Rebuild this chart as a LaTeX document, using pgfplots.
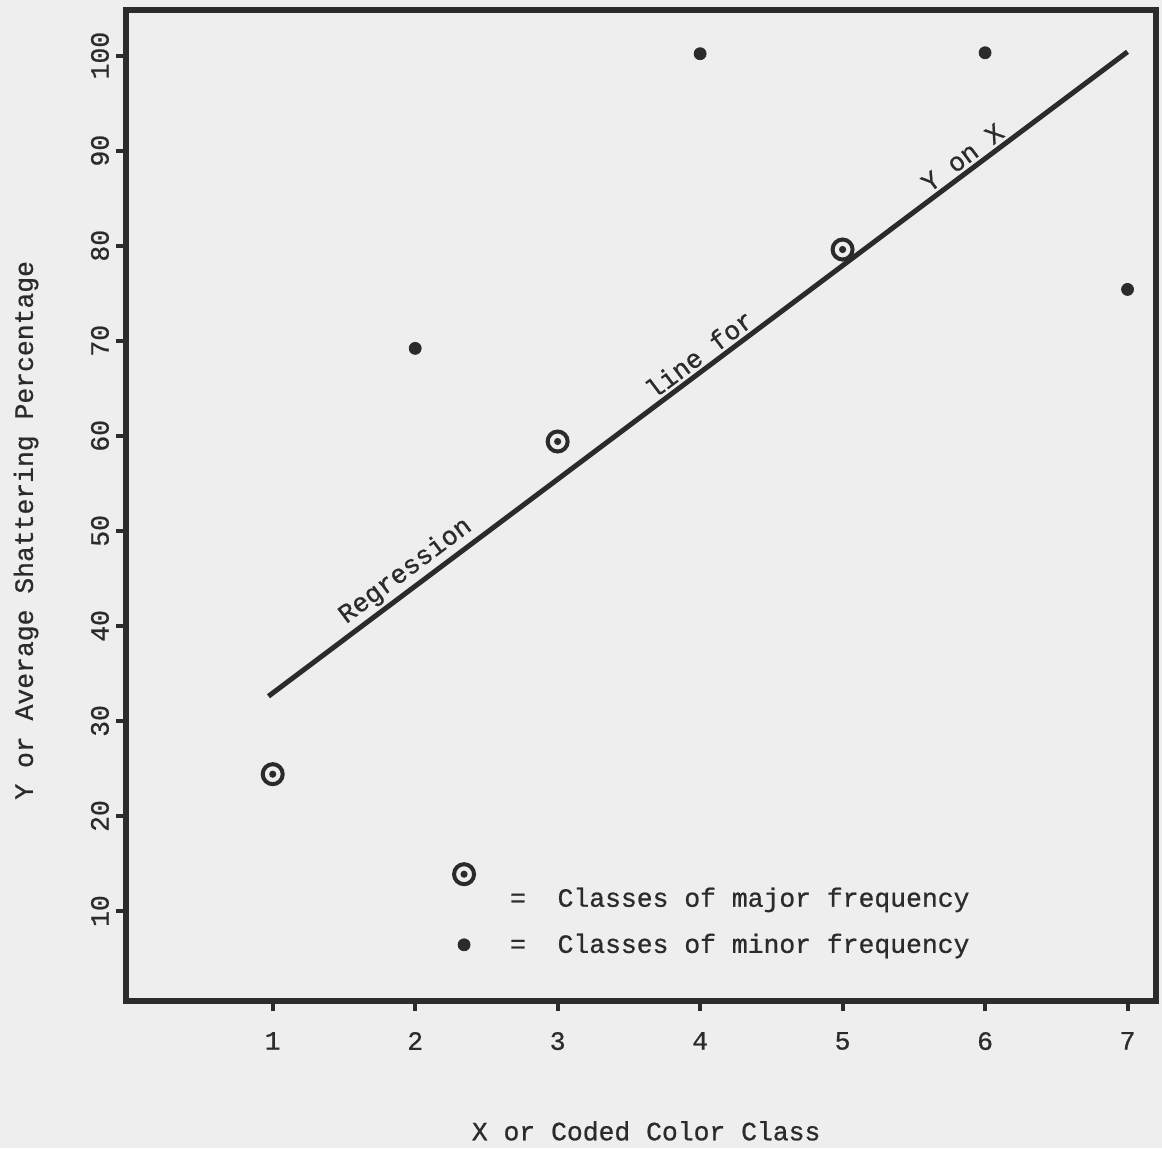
\documentclass[border=0pt]{standalone}
\usepackage{fontspec}
\setmainfont{Liberation Mono}[FakeBold=0.8]
\usepackage{pgfplots}
\pgfplotsset{compat=1.18}
\usetikzlibrary{backgrounds}
\definecolor{ink}{HTML}{2B2B2B}
\definecolor{paper}{HTML}{EEEEEE}
\pgfdeclareplotmark{ringdot}{%
  \pgfpathcircle{\pgfpointorigin}{\pgfplotmarksize}%
  \pgfusepathqstroke
  \pgfpathcircle{\pgfpointorigin}{0.36\pgfplotmarksize}%
  \pgfusepathqfill
}
\pgfplotsset{
  majorleg/.style={legend image code/.code={\draw[##1] plot coordinates {(0.3cm,0.43cm)};}},
  minorleg/.style={legend image code/.code={\draw[##1] plot coordinates {(0.3cm,0cm)};}},
}
\newcommand{\tw}{\fontsize{13.2}{15}\selectfont}
\begin{document}
\begin{tikzpicture}[show background rectangle, inner frame sep=0pt,
  background rectangle/.style={fill=paper, draw=none}]
\begin{axis}[
  scale only axis, width=515pt, height=495.5pt,
  xmin=-0.03, xmax=7.2, ymin=0.53, ymax=104.8,
  axis line style={ink, line width=3pt, line join=miter},
  xtick={1,2,3,4,5,6,7}, ytick={10,20,30,40,50,60,70,80,90,100},
  tick align=outside, tick pos=left,
  major tick length=5pt,
  every tick/.style={ink, line width=2pt},
  tick label style={font=\tw, text=ink},
  /pgf/number format/assume math mode=true,
  xticklabel style={yshift=-7pt},
  yticklabel style={rotate=90, anchor=south},
  xlabel={X or Coded Color Class},
  ylabel={Y or Average Shattering Percentage},
  every axis x label/.style={at={(rel axis cs:0.505,-0.131)}, anchor=center, font=\tw, text=ink},
  every axis y label/.style={at={(rel axis cs:-0.097,0.475)}, rotate=90, anchor=center, font=\tw, text=ink},
  clip=false,
  legend cell align=left,
  legend style={draw=none, fill=none, at={(axis cs:2.228,4.4)}, anchor=south west,
    font=\tw, text=ink, row sep=8pt},
]
\addplot[only marks, mark=ringdot, mark size=5pt, ink, line width=2pt, majorleg] coordinates {
  (1,24.4) (3,59.4) (5,79.6)
};
\addlegendentry{\hspace*{16pt}=\ \ Classes of major frequency}
\addplot[only marks, mark=*, mark size=3pt, ink, minorleg] coordinates {
  (2,69.2) (4,100.2) (6,100.3) (7,75.4)
};
\addlegendentry{\hspace*{16pt}=\ \ Classes of minor frequency}
\addplot[forget plot, ink, line width=2.5pt, no marks] coordinates {(0.97,32.6) (7,100.4)}
  node[pos=0.172, sloped, above, inner sep=1.5pt, font=\tw, text=ink] {Regression}
  node[pos=0.512, sloped, above, inner sep=1.5pt, font=\tw, text=ink] {line for}
  node[pos=0.818, sloped, above, inner sep=1.5pt, font=\tw, text=ink] {Y on X};
\path (rel axis cs:-0.1223,-0.1483) rectangle (rel axis cs:1.0058,1.0101);
\end{axis}
\end{tikzpicture}
\end{document}
